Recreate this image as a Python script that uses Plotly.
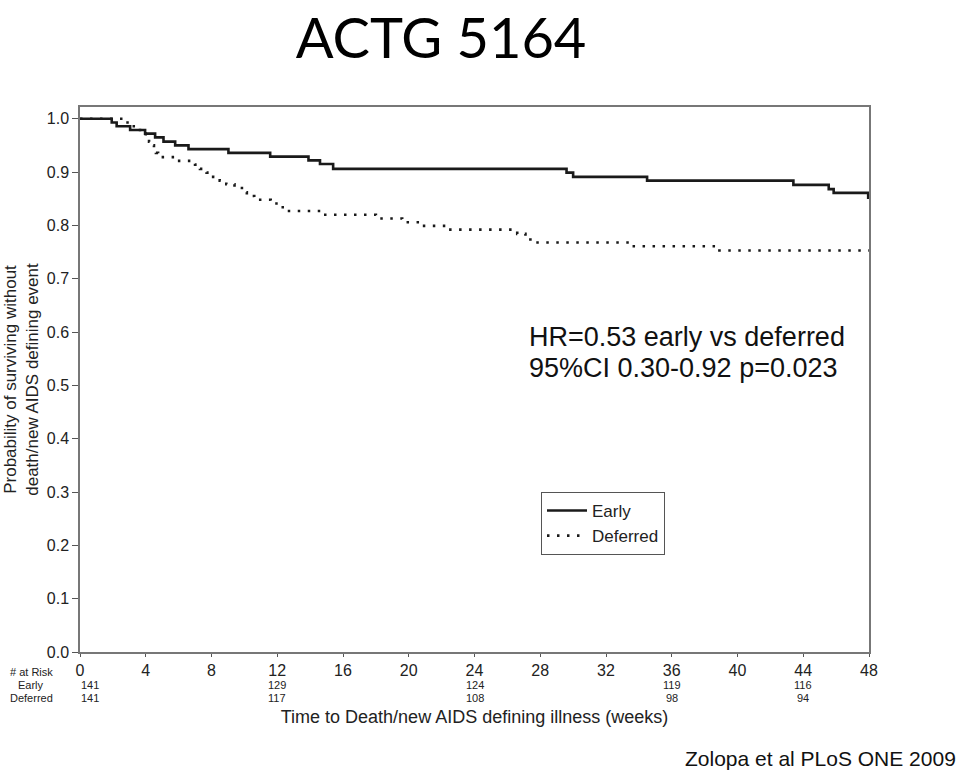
import plotly.graph_objects as go

# ---- data ----
early_weeks = [0, 1.93, 2.23, 3.05, 3.96, 4.57, 5.08, 5.79, 6.6, 9.03,
               11.57, 13.9, 14.6, 15.4, 29.6, 30.0, 34.5, 43.4, 45.55, 45.85,
               47.95, 48.0]
early_surv = [1.0, 0.993, 0.986, 0.979, 0.972, 0.965, 0.957, 0.950, 0.943, 0.936,
              0.929, 0.922, 0.915, 0.906, 0.899, 0.891, 0.884, 0.876, 0.868, 0.861,
              0.852, 0.852]

deferred_weeks = [0, 2.6, 3.1, 3.5, 3.8, 4.0, 4.2, 4.35, 4.5, 4.62, 4.75,
                  5.9, 7.0, 7.3, 7.7, 8.1, 8.5, 8.9, 9.4, 9.85, 10.15,
                  10.6, 11.6, 12.1, 12.5, 14.8, 18.0, 19.6, 20.7, 22.3, 26.6,
                  27.1, 27.4, 33.6, 38.9, 48.0]
deferred_surv = [1.0, 0.993, 0.986, 0.979, 0.972, 0.965, 0.957, 0.950, 0.943, 0.936, 0.928,
                 0.921, 0.914, 0.906, 0.899, 0.891, 0.884, 0.877, 0.870, 0.862, 0.855,
                 0.848, 0.841, 0.834, 0.827, 0.820, 0.813, 0.806, 0.799, 0.792, 0.784,
                 0.776, 0.768, 0.761, 0.753, 0.753]

x_ticks = [0, 4, 8, 12, 16, 20, 24, 28, 32, 36, 40, 44, 48]
y_ticks = [0.0, 0.1, 0.2, 0.3, 0.4, 0.5, 0.6, 0.7, 0.8, 0.9, 1.0]

risk_weeks = [0, 12, 24, 36, 44]
early_at_risk = [141, 129, 124, 119, 116]
deferred_at_risk = [141, 117, 108, 98, 94]

title_text = "ACTG 5164"
hr_line1 = "HR=0.53 early vs deferred"
hr_line2 = "95%CI 0.30-0.92 p=0.023"
citation = "Zolopa et al PLoS ONE 2009"

# ---- figure ----
FONT = "Liberation Sans, Arial, sans-serif"
INK = "#1a1a1a"

fig = go.Figure()
fig.add_trace(go.Scatter(
    x=early_weeks, y=early_surv, mode="lines", name="Early",
    line=dict(shape="hv", color=INK, width=2.6)))
fig.add_trace(go.Scatter(
    x=deferred_weeks, y=deferred_surv, mode="lines", name="Deferred",
    line=dict(shape="hv", color=INK, width=2.6, dash="2.5px,7.5px")))

L, R, T, B = 80, 91, 107, 120
W, H = 960, 772
pw, ph = W - L - R, H - T - B


def px_to_paper_x(px):
    return (px - L) / pw


def px_to_paper_y(py):
    return (H - B - py) / ph


annotations = []
# HR text
annotations.append(dict(text=hr_line1, xref="paper", yref="paper",
                         x=px_to_paper_x(527), y=px_to_paper_y(337),
                         xanchor="left", yanchor="middle", showarrow=False,
                         font=dict(family=FONT, size=27, color="#111")))
annotations.append(dict(text=hr_line2, xref="paper", yref="paper",
                         x=px_to_paper_x(527), y=px_to_paper_y(368),
                         xanchor="left", yanchor="middle", showarrow=False,
                         font=dict(family=FONT, size=27, color="#111")))
# risk table labels
for lbl, py in [("# at Risk", 672), ("Early", 685), ("Deferred", 698)]:
    annotations.append(dict(text=lbl, xref="paper", yref="paper",
                             x=px_to_paper_x(31), y=px_to_paper_y(py),
                             xanchor="center", yanchor="middle", showarrow=False,
                             borderpad=0,
                             font=dict(family=FONT, size=11, color="#222")))
for wk, e, d in zip(risk_weeks, early_at_risk, deferred_at_risk):
    anchor = "left" if wk == 0 else "center"
    for val, py in [(e, 685), (d, 698)]:
        annotations.append(dict(text=str(val), xref="x", yref="paper",
                                 x=wk, y=px_to_paper_y(py),
                                 xanchor=anchor, yanchor="middle", showarrow=False,
                                 borderpad=0,
                                 font=dict(family=FONT, size=11, color="#222")))
# citation
annotations.append(dict(text=citation, xref="paper", yref="paper",
                         x=px_to_paper_x(958), y=px_to_paper_y(758),
                         xanchor="right", yanchor="middle", showarrow=False,
                         font=dict(family=FONT, size=21, color="#111")))

fig.update_layout(
    width=W, height=H,
    margin=dict(l=L, r=R, t=T, b=B, autoexpand=False),
    paper_bgcolor="white", plot_bgcolor="white",
    font=dict(family=FONT, color="#222"),
    title=dict(text=title_text, x=441 / W, xanchor="center",
               y=1 - 38 / H, yanchor="middle",
               font=dict(family="Lato, Open Sans, sans-serif", size=56, color="#000")),
    xaxis=dict(range=[0, 48], tickvals=x_ticks, ticks="outside", ticklen=3,
               tickcolor="#555", showline=True, linecolor="#777", linewidth=1.5,
               mirror=True, showgrid=False, zeroline=False,
               tickfont=dict(size=16, color="#222"),
               title=dict(text="Time to Death/new AIDS defining illness (weeks)",
                          font=dict(size=18, color="#222"), standoff=32)),
    yaxis=dict(range=[0, 1.022], tickvals=y_ticks, tickformat=".1f",
               ticks="outside", ticklen=6, tickcolor="#555",
               showline=True, linecolor="#777", linewidth=1.5, mirror=True,
               showgrid=False, zeroline=False,
               tickfont=dict(size=16, color="#222"),
               title=dict(text="Probability of surviving without<br>death/new AIDS defining event",
                          font=dict(size=17, color="#222"), standoff=4)),
    legend=dict(x=px_to_paper_x(541), y=px_to_paper_y(492),
                xanchor="left", yanchor="top",
                bordercolor="#555", borderwidth=1, bgcolor="white",
                font=dict(family=FONT, size=17, color="#222"),
                itemwidth=40),
    showlegend=True,
    annotations=annotations,
)

fig.write_html("out.html")
